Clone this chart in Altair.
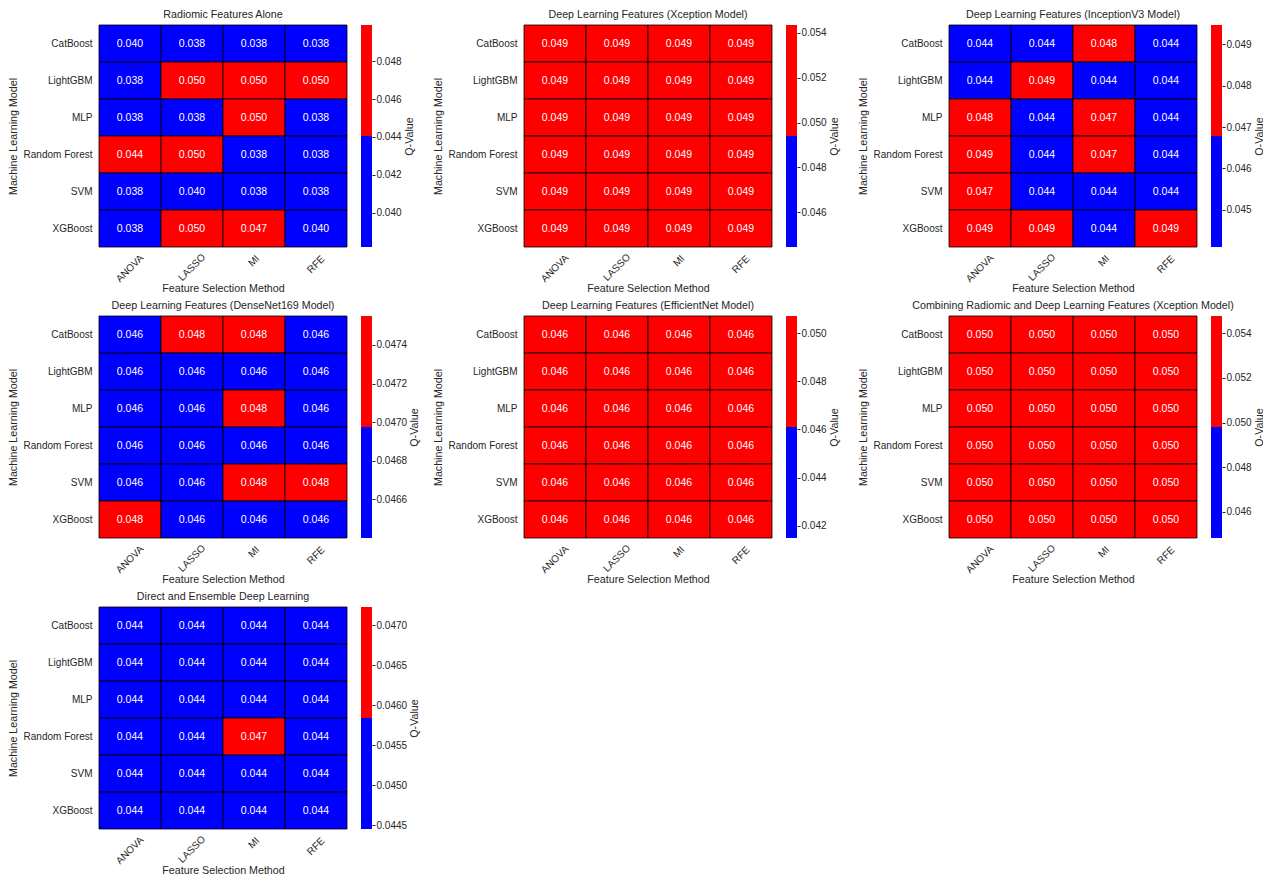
import altair as alt
import pandas as pd

models = ["CatBoost", "LightGBM", "MLP", "Random Forest", "SVM", "XGBoost"]
methods = ["ANOVA", "LASSO", "MI", "RFE"]

titles = [
    "Radiomic Features Alone",
    "Deep Learning Features (Xception Model)",
    "Deep Learning Features (InceptionV3 Model)",
    "Deep Learning Features (DenseNet169 Model)",
    "Deep Learning Features (EfficientNet Model)",
    "Combining Radiomic and Deep Learning Features (Xception Model)",
    "Direct and Ensemble Deep Learning",
]

radiomic = [
    [0.0400, 0.0382, 0.0382, 0.0382],
    [0.0382, 0.0499, 0.0499, 0.0499],
    [0.0382, 0.0382, 0.0499, 0.0382],
    [0.0441, 0.0499, 0.0382, 0.0382],
    [0.0382, 0.0400, 0.0382, 0.0382],
    [0.0382, 0.0499, 0.0470, 0.0400],
]
xception = [
    [0.0494, 0.0494, 0.0494, 0.0494],
    [0.0494, 0.0494, 0.0494, 0.0494],
    [0.0494, 0.0494, 0.0494, 0.0494],
    [0.0494, 0.0494, 0.0494, 0.0494],
    [0.0494, 0.0494, 0.0494, 0.0494],
    [0.0494, 0.0494, 0.0494, 0.0494],
]
inception = [
    [0.0441, 0.0441, 0.0480, 0.0441],
    [0.0441, 0.04947, 0.0441, 0.0441],
    [0.0480, 0.0441, 0.0470, 0.0441],
    [0.04947, 0.0441, 0.0470, 0.0441],
    [0.0470, 0.0441, 0.0441, 0.0441],
    [0.04947, 0.04947, 0.0441, 0.04947],
]
densenet = [
    [0.0464, 0.04755, 0.04755, 0.0464],
    [0.0464, 0.0464, 0.0464, 0.0464],
    [0.0464, 0.0464, 0.04755, 0.0464],
    [0.0464, 0.0464, 0.0464, 0.0464],
    [0.0464, 0.0464, 0.04755, 0.04755],
    [0.04755, 0.0464, 0.0464, 0.0464],
]
efficientnet = [
    [0.0461, 0.0461, 0.0461, 0.0461],
    [0.0461, 0.0461, 0.0461, 0.0461],
    [0.0461, 0.0461, 0.0461, 0.0461],
    [0.0461, 0.0461, 0.0461, 0.0461],
    [0.0461, 0.0461, 0.0461, 0.0461],
    [0.0461, 0.0461, 0.0461, 0.0461],
]
combined = [
    [0.0498, 0.0498, 0.0498, 0.0498],
    [0.0498, 0.0498, 0.0498, 0.0498],
    [0.0498, 0.0498, 0.0498, 0.0498],
    [0.0498, 0.0498, 0.0498, 0.0498],
    [0.0498, 0.0498, 0.0498, 0.0498],
    [0.0498, 0.0498, 0.0498, 0.0498],
]
direct = [
    [0.04445, 0.04445, 0.04445, 0.04445],
    [0.04445, 0.04445, 0.04445, 0.04445],
    [0.04445, 0.04445, 0.04445, 0.04445],
    [0.04445, 0.04445, 0.04723, 0.04445],
    [0.04445, 0.04445, 0.04445, 0.04445],
    [0.04445, 0.04445, 0.04445, 0.04445],
]

# colorbar tick labels per panel
ticks_radiomic = [0.040, 0.042, 0.044, 0.046, 0.048]
ticks_xception = [0.046, 0.048, 0.050, 0.052, 0.054]
ticks_inception = [0.045, 0.046, 0.047, 0.048, 0.049]
ticks_densenet = [0.0466, 0.0468, 0.0470, 0.0472, 0.0474]
ticks_efficientnet = [0.042, 0.044, 0.046, 0.048, 0.050]
ticks_combined = [0.046, 0.048, 0.050, 0.052, 0.054]
ticks_direct = [0.0445, 0.0450, 0.0455, 0.0460, 0.0465, 0.0470]

panels = [
    (radiomic, ticks_radiomic, ".3f"),
    (xception, ticks_xception, ".3f"),
    (inception, ticks_inception, ".3f"),
    (densenet, ticks_densenet, ".4f"),
    (efficientnet, ticks_efficientnet, ".3f"),
    (combined, ticks_combined, ".3f"),
    (direct, ticks_direct, ".4f"),
]

BLUE = "#0000ff"
RED = "#ff0000"
FONT = "Liberation Sans"
DARK = "#262626"
HM_W, HM_H, CB_W, SPACER_W = 248, 222, 11, 124

x_label_pad = {
    "condition": [
        {"test": "datum.value == 'ANOVA'", "value": 21},
        {"test": "datum.value == 'LASSO'", "value": 20},
        {"test": "datum.value == 'MI'", "value": 13.5},
    ],
    "value": 17,
}


def make_panel(matrix, ticks, fmt, title, k):
    qf = f"q{k}"
    bf = f"b{k}"
    rows = []
    for i, m in enumerate(models):
        for j, f in enumerate(methods):
            rows.append({"model": m, "method": f, qf: matrix[i][j]})
    df = pd.DataFrame(rows)
    vals = [v for r in matrix for v in r]
    lo, hi = min(vals), max(vals)
    if lo == hi:
        mid = lo
        lo, hi = lo - 0.1 * abs(lo), hi + 0.1 * abs(hi)
    else:
        mid = (lo + hi) / 2
    cscale = alt.Scale(type="threshold", domain=[mid], range=[BLUE, RED])

    base = alt.Chart(df).encode(
        x=alt.X(
            "method:N",
            sort=methods,
            scale=alt.Scale(paddingInner=0, paddingOuter=0),
            title="Feature Selection Method",
            axis=alt.Axis(
                labelAngle=315,
                labelAlign="center",
                labelBaseline="middle",
                labelPadding=x_label_pad,
                ticks=False,
                tickSize=0,
                domain=False,
                titlePadding=0,
            ),
        ),
        y=alt.Y(
            "model:N",
            sort=models,
            scale=alt.Scale(paddingInner=0, paddingOuter=0),
            title="Machine Learning Model",
            axis=alt.Axis(ticks=False, tickSize=0, domain=False, labelPadding=7, titlePadding=5),
        ),
    )
    rect = base.mark_rect(stroke="black", strokeWidth=0.8).encode(
        color=alt.Color(f"{qf}:Q", scale=cscale, legend=None)
    )
    text = base.mark_text(color="white", fontSize=10.5, font=FONT).encode(
        text=alt.Text(f"{qf}:Q", format=".3f")
    )
    hm = alt.layer(rect, text).properties(
        width=HM_W, height=HM_H, title=alt.TitleParams(title, frame="group")
    )

    cb_df = pd.DataFrame({bf: [lo, mid], "top": [mid, hi]})
    cb = (
        alt.Chart(cb_df)
        .mark_rect()
        .encode(
            y=alt.Y(
                f"{bf}:Q",
                scale=alt.Scale(domain=[lo, hi], nice=False, zero=False),
                axis=alt.Axis(
                    orient="right",
                    values=ticks,
                    format=fmt,
                    tickSize=3,
                    labelPadding=1,
                    domain=False,
                    grid=False,
                    labelFlush=False,
                    labelOverlap=False,
                    title="Q-Value",
                    titleAngle=270,
                    titleBaseline="top",
                    titlePadding=3,
                ),
            ),
            y2="top:Q",
            color=alt.Color(f"{bf}:Q", scale=cscale, legend=None),
        )
        .properties(width=CB_W, height=HM_H)
    )
    return hm, cb


def spacer():
    return (
        alt.Chart(pd.DataFrame({"s": [0]}))
        .mark_point(opacity=0, size=1)
        .encode(x=alt.value(0), y=alt.value(10))
        .properties(width=SPACER_W, height=HM_H)
    )


items = []
for k, (mat, tks, fmt) in enumerate(panels):
    hm, cb = make_panel(mat, tks, fmt, titles[k], k)
    if k % 3 != 0:
        items.append(spacer())
    items.extend([hm, cb])

chart = (
    alt.concat(*items, columns=8, spacing={"row": 69, "column": 14}, bounds="flush")
    .resolve_scale(color="independent")
    .properties(padding={"left": -1, "top": 0, "right": -1, "bottom": 0})
    .configure_view(strokeWidth=0)
    .configure_axis(
        labelFont=FONT,
        titleFont=FONT,
        labelColor=DARK,
        titleColor=DARK,
        tickColor=DARK,
        labelFontSize=10,
        titleFontSize=10.7,
        titleFontWeight="normal",
    )
    .configure_title(font=FONT, fontSize=10.7, fontWeight="normal", color=DARK, offset=0)
)

chart.save("out.html", embed_options={"renderer": "svg", "actions": False})
